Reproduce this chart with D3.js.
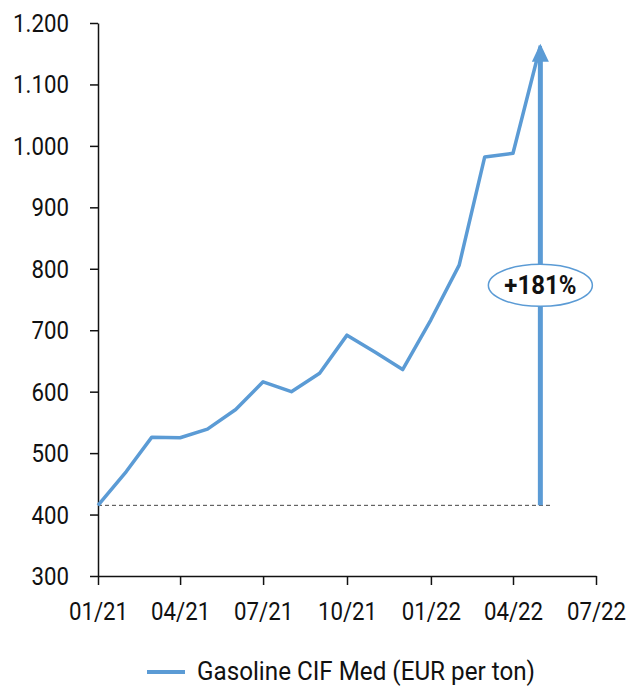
<!DOCTYPE html>
<html>
<head>
<meta charset="utf-8">
<script src="https://cdn.jsdelivr.net/npm/d3@7"></script>
<style>
  body { margin: 0; background: #fff; }
  text { font-family: Roboto, "Noto Sans", sans-serif; fill: #111; }
</style>
</head>
<body>
<script>
// monthly gasoline CIF Med prices, EUR per ton
var months = ["2021-01", "2021-02", "2021-03", "2021-04", "2021-05", "2021-06",
              "2021-07", "2021-08", "2021-09", "2021-10", "2021-11", "2021-12",
              "2022-01", "2022-02", "2022-03", "2022-04", "2022-05"];
var prices = [415, 470, 526, 525, 539, 571, 616, 600, 630, 692, 664, 636,
              717, 806, 982, 988, 1163];
var seriesName = "Gasoline CIF Med (EUR per ton)";
var changeLabel = "+181%";
var labelLevel = 773;
var yTicks = [300, 400, 500, 600, 700, 800, 900, 1000, 1100, 1200];
var xTicks = ["2021-01", "2021-04", "2021-07", "2021-10", "2022-01", "2022-04", "2022-07"];

var width = 634,
    height = 687,
    margin = {top: 23, right: 38, bottom: 111, left: 98};

var blue = "#5b9bd5";
var parse = d3.timeParse("%Y-%m");
var data = months.map(function(m, i) { return {date: parse(m), value: prices[i]}; });

var x = d3.scaleTime()
    .domain([parse("2021-01"), parse("2022-07")])
    .range([margin.left, width - margin.right]);

var y = d3.scaleLinear()
    .domain([300, 1200])
    .range([height - margin.bottom, margin.top]);

var svg = d3.select("body").append("svg")
    .attr("width", width)
    .attr("height", height);

// labels are drawn a bit narrower, like a condensed face
var squeeze = 0.84;
var euro = d3.formatLocale({decimal: ",", thousands: ".", grouping: [3], currency: ["€", ""]});
var fmt = euro.format(",d");

// y axis
var yAxis = svg.append("g")
    .attr("transform", "translate(" + margin.left + ",0)")
    .call(d3.axisLeft(y).tickValues(yTicks).tickFormat(fmt).tickSize(8).tickPadding(21).tickSizeOuter(0));
yAxis.selectAll("text")
    .style("font-size", "26.5px")
    .attr("x", -29 / squeeze)
    .attr("transform", "scale(" + squeeze + ",1)");

// x axis
var xAxis = svg.append("g")
    .attr("transform", "translate(0," + (height - margin.bottom) + ")")
    .call(d3.axisBottom(x).tickValues(xTicks.map(parse)).tickFormat(d3.timeFormat("%m/%y")).tickSize(9).tickPadding(16).tickSizeOuter(0));
xAxis.selectAll("text")
    .style("font-size", "26.5px")
    .attr("transform", "scale(" + squeeze + ",1)");

svg.selectAll(".domain, .tick line")
    .attr("stroke", "#111")
    .attr("stroke-width", 1.5);

// baseline at the first value
var base = data[0], last = data[data.length - 1];
svg.append("line")
    .attr("x1", x(base.date))
    .attr("x2", x(last.date) + 10)
    .attr("y1", y(base.value))
    .attr("y2", y(base.value))
    .attr("stroke", "#444")
    .attr("stroke-width", 1)
    .attr("stroke-dasharray", "4,3");

// price line
var line = d3.line()
    .x(function(d) { return x(d.date); })
    .y(function(d) { return y(d.value); });

svg.append("path")
    .datum(data)
    .attr("d", line)
    .attr("fill", "none")
    .attr("stroke", blue)
    .attr("stroke-width", 3.5)
    .attr("stroke-linejoin", "round");

// arrow showing the rise
var ax = x(last.date);
var tipY = y(last.value) - 2;
svg.append("line")
    .attr("x1", ax).attr("x2", ax)
    .attr("y1", y(base.value))
    .attr("y2", tipY + 16)
    .attr("stroke", blue)
    .attr("stroke-width", 5);
svg.append("path")
    .attr("d", "M" + ax + "," + tipY + "L" + (ax + 8.5) + "," + (tipY + 18) + "L" + (ax - 8.5) + "," + (tipY + 18) + "Z")
    .attr("fill", blue);

svg.append("ellipse")
    .attr("cx", ax)
    .attr("cy", y(labelLevel))
    .attr("rx", 52)
    .attr("ry", 21)
    .attr("fill", "#fff")
    .attr("stroke", blue)
    .attr("stroke-width", 1.5);
svg.append("text")
    .attr("x", ax)
    .attr("y", y(labelLevel) + 9)
    .attr("text-anchor", "middle")
    .attr("textLength", 72)
    .attr("lengthAdjust", "spacingAndGlyphs")
    .style("font-size", "25.5px")
    .style("font-weight", "bold")
    .text(changeLabel);

// legend
var legend = svg.append("g");
legend.append("line")
    .attr("x1", 147).attr("x2", 185)
    .attr("y1", 672).attr("y2", 672)
    .attr("stroke", blue)
    .attr("stroke-width", 4);
legend.append("text")
    .attr("x", 197)
    .attr("y", 680)
    .attr("textLength", 338)
    .attr("lengthAdjust", "spacingAndGlyphs")
    .style("font-size", "25.5px")
    .text(seriesName);
</script>
</body>
</html>
